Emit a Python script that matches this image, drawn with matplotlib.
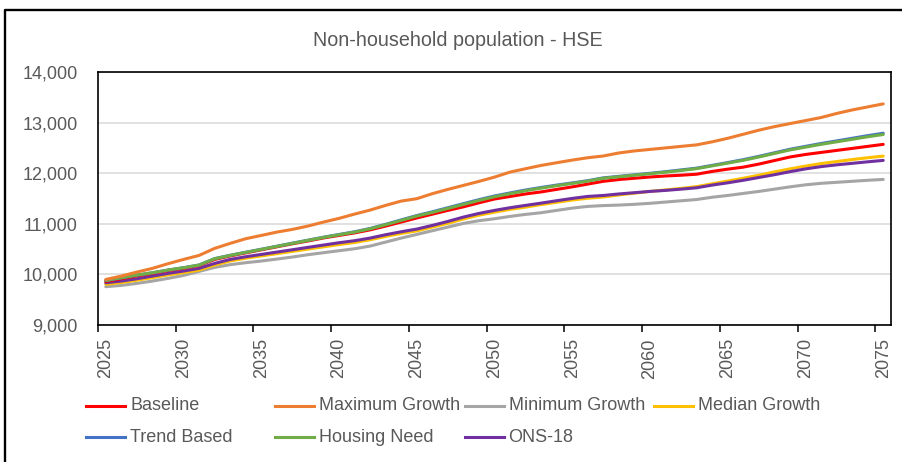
import matplotlib
matplotlib.use("Agg")
import matplotlib.pyplot as plt
from matplotlib.lines import Line2D
from matplotlib.ticker import FixedLocator, FuncFormatter

plt.rcParams['font.family'] = ['Liberation Sans', 'DejaVu Sans']

title = "Non-household population - HSE"
years = list(range(2025, 2076))

baseline = [9860, 9915, 9970, 10020, 10075, 10120, 10175, 10295, 10365, 10425,
            10485, 10545, 10605, 10660, 10720, 10770, 10820, 10880, 10955, 11035,
            11115, 11190, 11265, 11335, 11415, 11490, 11540, 11590, 11630, 11680,
            11730, 11785, 11840, 11875, 11900, 11925, 11945, 11960, 11980, 12035,
            12080, 12120, 12180, 12250, 12320, 12370, 12410, 12450, 12490, 12530,
            12570]
maximum = [9900, 9967, 10046, 10119, 10211, 10296, 10375, 10514, 10613, 10705,
           10770, 10836, 10889, 10955, 11034, 11107, 11192, 11271, 11364, 11449,
           11496, 11595, 11680, 11759, 11838, 11923, 12022, 12089, 12154, 12207,
           12259, 12306, 12340, 12400, 12440, 12470, 12500, 12530, 12560, 12620,
           12690, 12770, 12850, 12920, 12980, 13040, 13100, 13180, 13250, 13310,
           13370]
minimum = [9757, 9783, 9822, 9868, 9921, 9980, 10059, 10138, 10192, 10231,
           10264, 10303, 10343, 10389, 10429, 10468, 10507, 10560, 10639, 10718,
           10790, 10863, 10935, 11008, 11061, 11100, 11146, 11186, 11219, 11265,
           11310, 11344, 11360, 11370, 11385, 11405, 11430, 11455, 11480, 11525,
           11560, 11600, 11640, 11685, 11730, 11770, 11800, 11820, 11840, 11860,
           11877]
median = [9805, 9840, 9885, 9935, 9990, 10035, 10085, 10185, 10265, 10320,
          10365, 10410, 10455, 10500, 10545, 10590, 10630, 10685, 10750, 10810,
          10860, 10935, 11010, 11095, 11170, 11230, 11285, 11330, 11380, 11425,
          11470, 11505, 11530, 11570, 11605, 11640, 11670, 11700, 11735, 11790,
          11845, 11900, 11960, 12025, 12085, 12140, 12190, 12230, 12270, 12305,
          12338]
trend = [9878, 9932, 9985, 10032, 10086, 10132, 10186, 10312, 10378, 10438,
         10497, 10557, 10617, 10676, 10735, 10789, 10842, 10908, 10990, 11077,
         11163, 11237, 11318, 11398, 11477, 11550, 11610, 11668, 11718, 11765,
         11808, 11852, 11908, 11938, 11968, 11998, 12030, 12065, 12100, 12155,
         12210, 12268, 12333, 12403, 12473, 12530, 12587, 12638, 12690, 12742,
         12790]
housing = [9881, 9934, 9987, 10033, 10086, 10132, 10184, 10310, 10375, 10435,
           10494, 10553, 10613, 10672, 10731, 10784, 10836, 10902, 10982, 11067,
           11153, 11225, 11304, 11383, 11462, 11535, 11595, 11654, 11705, 11753,
           11798, 11844, 11900, 11930, 11960, 11990, 12020, 12055, 12090, 12145,
           12200, 12255, 12320, 12390, 12460, 12515, 12570, 12620, 12670, 12720,
           12765]
ons18 = [9835, 9868, 9914, 9967, 10020, 10066, 10119, 10217, 10296, 10349,
         10395, 10441, 10487, 10534, 10580, 10626, 10666, 10718, 10784, 10843,
         10896, 10968, 11047, 11133, 11205, 11265, 11318, 11364, 11409, 11456,
         11502, 11541, 11560, 11590, 11615, 11640, 11660, 11685, 11712, 11765,
         11810, 11860, 11915, 11970, 12030, 12085, 12130, 12165, 12195, 12225,
         12253]

series_names = ["Baseline", "Maximum Growth", "Minimum Growth", "Median Growth",
                "Trend Based", "Housing Need", "ONS-18"]
series_values = [baseline, maximum, minimum, median, trend, housing, ons18]
series_colors = ["#FF0000", "#ED7D31", "#A5A5A5", "#FFC000",
                 "#4472C4", "#70AD47", "#7030A0"]
draw_order = [2, 3, 6, 0, 4, 5, 1]

y_ticks = [9000, 10000, 11000, 12000, 13000, 14000]
x_label_years = list(range(2025, 2076, 5))

W, H = 902, 462
fig = plt.figure(figsize=(W / 100, H / 100), dpi=100)
text_color = "#595959"

ax = fig.add_axes([98 / W, 1 - 325 / H, (891 - 98) / W, (325 - 72) / H])
for idx in draw_order:
    ax.plot(years, series_values[idx], color=series_colors[idx], lw=2.2,
            solid_capstyle='round', zorder=3 + draw_order.index(idx) * 0.01)

ax.set_xlim(2024.5, 2075.5)
ax.set_ylim(y_ticks[0], y_ticks[-1])
ax.set_yticks(y_ticks)
ax.yaxis.set_major_formatter(FuncFormatter(lambda v, p: f"{int(v):,}"))
ax.tick_params(axis='y', length=0, pad=14.5, labelsize=13, labelcolor=text_color)
ax.grid(axis='y', color="#D9D9D9", lw=1.1, zorder=0)
ax.set_axisbelow(True)

ax.set_xticks(x_label_years)
ax.set_xticklabels([str(y) for y in x_label_years], rotation=90)
ax.tick_params(axis='x', which='major', length=0, pad=9.5, labelsize=13,
               labelcolor=text_color)
ax.xaxis.set_minor_locator(FixedLocator([y - 0.5 for y in x_label_years]))
ax.tick_params(axis='x', which='minor', length=5, width=1.1, color='black',
               direction='out')

for s in ax.spines.values():
    s.set_color('black')
    s.set_linewidth(1.2)

fig.text(458 / W, 1 - 40 / H, title, ha='center', va='center', fontsize=14.2,
         color=text_color)

# legend (uniform column widths, as in the original)
for i, (name, color) in enumerate(zip(series_names, series_colors)):
    col, row = i % 4, i // 4
    x0 = 86 + col * 189.3
    yy = 406 + row * 31
    fig.add_artist(Line2D([x0 / W, (x0 + 39) / W], [1 - yy / H, 1 - yy / H],
                          color=color, lw=2.2, transform=fig.transFigure))
    fig.text((x0 + 44) / W, 1 - yy / H, name, ha='left', va='center',
             fontsize=13, color=text_color)

# outer frame (left and top edges visible)
fig.add_artist(Line2D([4.5 / W, 4.5 / W, 1.0], [0.0, 1 - 9.5 / H, 1 - 9.5 / H],
                      color='black', lw=1.7, transform=fig.transFigure))

fig.savefig("out.png", dpi=100)
